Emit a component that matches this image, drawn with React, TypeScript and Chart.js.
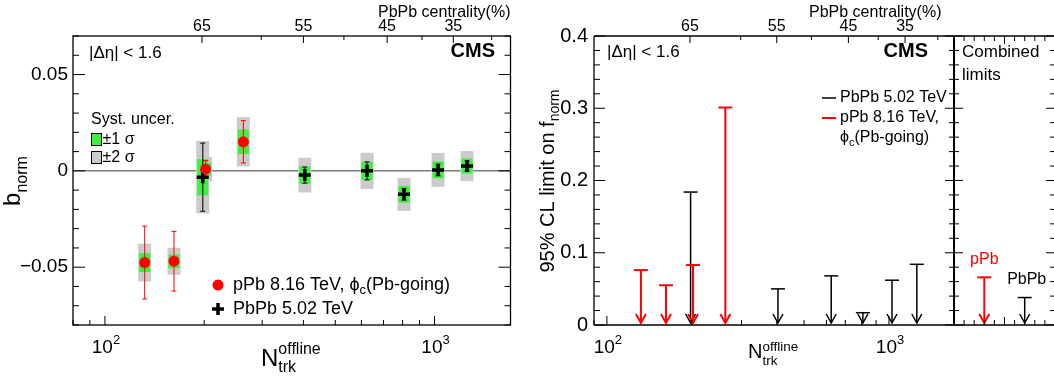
import React, { useEffect, useRef } from 'react';
import { Chart, registerables } from 'chart.js';
Chart.register(...registerables);

// ---------------- Data ----------------
// Left panel: b_norm vs N_trk^offline
const pPbNtrk = [132, 162, 202, 263];
const pPbB = [-0.0476, -0.0469, 0.0009, 0.0151];
const pPbStat = [0.0189, 0.0155, 0.0045, 0.011];
const pPbSyst = [0.0049, 0.0035, 0.0032, 0.0064];

const PbPbNtrk = [198, 404, 624, 808, 1025, 1255];
const PbPbB = [-0.0033, -0.0022, 0.0, -0.0122, 0.0005, 0.0025];
const PbPbStat = [0.0177, 0.0042, 0.0047, 0.003, 0.003, 0.0025];
const PbPbSyst = [0.0094, 0.0045, 0.0047, 0.0043, 0.0044, 0.0039];

// Right panel: 95% CL upper limits on f_norm
const pPbLimit = [0.076, 0.055, 0.083, 0.301];
const PbPbLimit = [0.184, 0.05, 0.068, 0.017, 0.062, 0.084];

// Combined limits
const combinedLabels = ['pPb', 'PbPb'];
const combinedPos = [3, 7];
const combinedLimit = [0.066, 0.038];

// Top axis: PbPb centrality
const centralityLabels = ['65', '55', '45', '35'];
const centralityNtrk = [197, 400, 718, 1140];
const centralityMinorNtrk = [298, 531, 916, 1490];

// Tick labels
const leftYTicks = [-0.05, 0, 0.05];
const leftYTickLabels = ['\u22120.05', '0', '0.05'];
const rightYTicks = [0, 0.1, 0.2, 0.3, 0.4];
const rightYTickLabels = ['0', '0.1', '0.2', '0.3', '0.4'];
const xMajorTicks = [100, 1000];
const xMajorExp = ['2', '3'];

// ---------------- Style ----------------
const FONT = '"Liberation Sans", Arial, Helvetica, sans-serif';
const GREEN = '#3ef03e';
const GRAY = '#cbcbcb';
const RED = '#ff0000';
const PHI = '\u03d5';

type Part = { t: string; size: number; dy?: number; bold?: boolean; stack?: boolean; color?: string };

function font(size: number, bold?: boolean) {
  return `${bold ? 'bold ' : ''}${size}px ${FONT}`;
}

function drawRich(ctx: CanvasRenderingContext2D, parts: Part[], x: number, y: number, align: 'left' | 'center' | 'right', color = '#000') {
  let cur = 0, prevStart = 0, prevW = 0;
  const placed: { p: Part; x: number }[] = [];
  for (const p of parts) {
    ctx.font = font(p.size, p.bold);
    const w = ctx.measureText(p.t).width;
    if (p.stack) {
      placed.push({ p, x: prevStart });
      prevW = Math.max(prevW, w);
      cur = prevStart + prevW;
    } else {
      placed.push({ p, x: cur });
      prevStart = cur; prevW = w; cur += w;
    }
  }
  const x0 = align === 'left' ? x : align === 'center' ? x - cur / 2 : x - cur;
  ctx.textAlign = 'left';
  for (const { p, x: px } of placed) {
    ctx.font = font(p.size, p.bold);
    ctx.fillStyle = p.color || color;
    ctx.fillText(p.t, x0 + px, y + (p.dy || 0));
  }
}

function line(ctx: CanvasRenderingContext2D, x1: number, y1: number, x2: number, y2: number) {
  ctx.beginPath(); ctx.moveTo(x1, y1); ctx.lineTo(x2, y2); ctx.stroke();
}

function logTicks(min: number, max: number) {
  const out: { v: number; major: boolean }[] = [];
  for (let e = Math.floor(Math.log10(min)); e <= Math.ceil(Math.log10(max)); e++) {
    const d = Math.pow(10, e);
    for (let m = 1; m <= 9; m++) {
      const v = m * d;
      if (v >= min && v <= max) out.push({ v, major: m === 1 });
    }
  }
  return out;
}

function drawBottomLogAxis(ctx: CanvasRenderingContext2D, chart: any) {
  const { chartArea: a, scales: { x } } = chart;
  ctx.strokeStyle = '#000'; ctx.lineWidth = 1;
  logTicks(x.min, x.max).forEach(t => {
    const px = x.getPixelForValue(t.v);
    line(ctx, px, a.bottom, px, a.bottom - (t.major ? 9 : 5));
  });
  ctx.textBaseline = 'alphabetic';
  xMajorTicks.forEach((v, i) => {
    drawRich(ctx, [{ t: '10', size: 19 }, { t: xMajorExp[i], size: 13, dy: -9 }], x.getPixelForValue(v) + 1, 353, 'center');
  });
}

function drawCentralityAxis(ctx: CanvasRenderingContext2D, chart: any) {
  const { chartArea: a, scales: { x } } = chart;
  ctx.strokeStyle = '#000'; ctx.lineWidth = 1;
  centralityNtrk.forEach(n => { const px = x.getPixelForValue(n); line(ctx, px, a.top, px, a.top + 7); });
  centralityMinorNtrk.forEach(n => {
    if (n < x.max) { const px = x.getPixelForValue(n); line(ctx, px, a.top, px, a.top + 4); }
  });
  ctx.textBaseline = 'middle';
  centralityLabels.forEach((lab, i) => {
    drawRich(ctx, [{ t: lab, size: 16 }], x.getPixelForValue(centralityNtrk[i]), 27, 'center');
  });
}

function drawArrow(ctx: CanvasRenderingContext2D, px: number, pyTop: number, pyTip: number, color: string, lw: number) {
  ctx.strokeStyle = color; ctx.lineWidth = lw;
  line(ctx, px, pyTop, px, pyTip);
  ctx.beginPath();
  ctx.moveTo(px - 5, pyTip - 9); ctx.lineTo(px, pyTip); ctx.lineTo(px + 5, pyTip - 9);
  ctx.stroke();
}

// ---------------- Left chart ----------------
const leftPlugin = {
  id: 'leftDecor',
  beforeDatasetsDraw(chart: any) {
    const { ctx, chartArea: a, scales: { x, y } } = chart;
    ctx.save();
    const y0 = y.getPixelForValue(0);
    ctx.strokeStyle = '#7a7a7a'; ctx.lineWidth = 1.5;
    line(ctx, a.left, y0, a.right, y0);
    const series = [
      { n: pPbNtrk, v: pPbB, s: pPbSyst, e: pPbStat, c: RED, lw: 1 },
      { n: PbPbNtrk, v: PbPbB, s: PbPbSyst, e: PbPbStat, c: '#333', lw: 1.4 },
    ];
    // +-2 sigma systematic boxes
    ctx.fillStyle = GRAY;
    series.forEach(sr => sr.n.forEach((n, i) => {
      const px = x.getPixelForValue(n);
      const t = y.getPixelForValue(sr.v[i] + 2 * sr.s[i]);
      const b = y.getPixelForValue(sr.v[i] - 2 * sr.s[i]);
      ctx.fillRect(px - 6.5, t, 13, b - t);
    }));
    // +-1 sigma systematic boxes
    ctx.fillStyle = GREEN;
    series.forEach(sr => sr.n.forEach((n, i) => {
      const px = x.getPixelForValue(n);
      const t = y.getPixelForValue(sr.v[i] + sr.s[i]);
      const b = y.getPixelForValue(sr.v[i] - sr.s[i]);
      ctx.fillRect(px - 5.5, t, 11, b - t);
    }));
    // statistical error bars
    series.forEach(sr => sr.n.forEach((n, i) => {
      const px = x.getPixelForValue(n);
      const t = y.getPixelForValue(sr.v[i] + sr.e[i]);
      const b = y.getPixelForValue(sr.v[i] - sr.e[i]);
      ctx.strokeStyle = sr.c; ctx.lineWidth = sr.lw;
      line(ctx, px, t, px, b);
      line(ctx, px - 2.5, t, px + 2.5, t);
      line(ctx, px - 2.5, b, px + 2.5, b);
    }));
    ctx.restore();
  },
  afterDraw(chart: any) {
    const { ctx, chartArea: a, scales: { y } } = chart;
    ctx.save();
    // frame
    ctx.strokeStyle = '#000'; ctx.lineWidth = 1.3;
    ctx.strokeRect(a.left, a.top, a.right - a.left, a.bottom - a.top);
    // y ticks both sides
    ctx.lineWidth = 1;
    for (let k = -8; k <= 7; k++) {
      const py = y.getPixelForValue(k / 100);
      const len = k % 5 === 0 ? 12 : 6;
      line(ctx, a.left, py, a.left + len, py);
      line(ctx, a.right, py, a.right - len, py);
    }
    ctx.textBaseline = 'middle';
    leftYTicks.forEach((v, i) => drawRich(ctx, [{ t: leftYTickLabels[i], size: 19 }], 68, y.getPixelForValue(v), 'right'));
    drawBottomLogAxis(ctx, chart);
    drawCentralityAxis(ctx, chart);
    ctx.textBaseline = 'middle';
    drawRich(ctx, [{ t: 'PbPb centrality(%)', size: 16 }], a.right, 12.5, 'right');
    drawRich(ctx, [{ t: '|\u0394\u03b7| < 1.6', size: 17 }], 89, 53, 'left');
    drawRich(ctx, [{ t: 'CMS', size: 20, bold: true }], 495, 51.5, 'right');
    // systematic legend
    drawRich(ctx, [{ t: 'Syst. uncer.', size: 16 }], 91, 119.5, 'left');
    ctx.fillStyle = GREEN; ctx.fillRect(91, 133, 11, 13);
    ctx.strokeStyle = '#000'; ctx.lineWidth = 1; ctx.strokeRect(91.5, 133.5, 10, 12);
    drawRich(ctx, [{ t: '\u00b11 \u03c3', size: 16 }], 102.5, 139.5, 'left');
    ctx.fillStyle = GRAY; ctx.fillRect(91, 151, 11, 13);
    ctx.strokeRect(91.5, 151.5, 10, 12);
    drawRich(ctx, [{ t: '\u00b12 \u03c3', size: 16 }], 102.5, 158, 'left');
    // marker legend
    ctx.fillStyle = RED; ctx.beginPath(); ctx.arc(218, 285, 5.5, 0, Math.PI * 2); ctx.fill();
    drawRich(ctx, [{ t: 'pPb 8.16 TeV, ' + PHI, size: 18 }, { t: 'c', size: 13, dy: 5 }, { t: '(Pb-going)', size: 18 }], 233, 285, 'left');
    ctx.strokeStyle = '#000'; ctx.lineWidth = 3.5;
    line(ctx, 212, 309, 224, 309); line(ctx, 218, 303, 218, 315);
    drawRich(ctx, [{ t: 'PbPb 5.02 TeV', size: 18 }], 233, 309, 'left');
    // axis titles
    ctx.textBaseline = 'alphabetic';
    drawRich(ctx, [{ t: 'N', size: 24 }, { t: 'offline', size: 16, dy: -12 }, { t: 'trk', size: 16, dy: 6, stack: true }], 261, 366, 'left');
    ctx.translate(20, 181);
    ctx.rotate(-Math.PI / 2);
    drawRich(ctx, [{ t: 'b', size: 24 }, { t: 'norm', size: 16, dy: 7 }], 0, 0, 'center');
    ctx.restore();
  },
};

function leftConfig(): any {
  return {
    type: 'scatter',
    data: {
      datasets: [
        { label: 'pPb 8.16 TeV, ' + PHI + 'c(Pb-going)', data: pPbNtrk.map((n, i) => ({ x: n, y: pPbB[i] })), pointStyle: 'circle', pointRadius: 5.5, backgroundColor: RED, borderColor: RED, borderWidth: 0 },
        { label: 'PbPb 5.02 TeV', data: PbPbNtrk.map((n, i) => ({ x: n, y: PbPbB[i] })), pointStyle: 'cross', pointRadius: 6, backgroundColor: '#000', borderColor: '#000', borderWidth: 3.5 },
      ],
    },
    options: {
      responsive: false, animation: false, events: [],
      layout: { padding: { left: 73, right: 8, top: 36, bottom: 54 } },
      plugins: { legend: { display: false }, tooltip: { enabled: false } },
      scales: {
        x: { type: 'logarithmic', min: 80, max: 1700, display: false },
        y: { type: 'linear', min: -0.08, max: 0.07, display: false },
      },
    },
    plugins: [leftPlugin],
  };
}

// ---------------- Right chart ----------------
const rightPlugin = {
  id: 'rightDecor',
  beforeDatasetsDraw(chart: any) {
    const { ctx, scales: { x, y } } = chart;
    ctx.save();
    const tip = y.getPixelForValue(0) - 2;
    PbPbNtrk.forEach((n, i) => drawArrow(ctx, x.getPixelForValue(n), y.getPixelForValue(PbPbLimit[i]), tip, '#000', 1.5));
    pPbNtrk.forEach((n, i) => drawArrow(ctx, x.getPixelForValue(n), y.getPixelForValue(pPbLimit[i]), tip, RED, 2));
    ctx.restore();
  },
  afterDraw(chart: any) {
    const { ctx, chartArea: a, scales: { y } } = chart;
    ctx.save();
    ctx.strokeStyle = '#000'; ctx.lineWidth = 1.3;
    line(ctx, a.left, a.top, a.right, a.top);
    line(ctx, a.left, a.bottom, a.right, a.bottom);
    line(ctx, a.left, a.top, a.left, a.bottom);
    ctx.lineWidth = 2;
    line(ctx, a.right, a.top, a.right, a.bottom);
    ctx.lineWidth = 1;
    for (let k = 0; k <= 20; k++) {
      const py = y.getPixelForValue(k * 0.02);
      const major = k % 5 === 0;
      line(ctx, a.left, py, a.left + (major ? 11 : 6), py);
      const s = major ? 9 : 5;
      line(ctx, a.right - s, py, a.right + s, py);
    }
    ctx.textBaseline = 'middle';
    rightYTicks.forEach((v, i) => drawRich(ctx, [{ t: rightYTickLabels[i], size: 20 }], 68, y.getPixelForValue(v), 'right'));
    drawBottomLogAxis(ctx, chart);
    drawCentralityAxis(ctx, chart);
    ctx.textBaseline = 'middle';
    drawRich(ctx, [{ t: 'PbPb centrality(%)', size: 16 }], 289, 12.5, 'left');
    drawRich(ctx, [{ t: '|\u0394\u03b7| < 1.6', size: 17 }], 87, 52, 'left');
    drawRich(ctx, [{ t: 'CMS', size: 20, bold: true }], 408, 51.5, 'right');
    // legend
    ctx.strokeStyle = '#000'; ctx.lineWidth = 1.5; line(ctx, 302, 98, 316, 98);
    drawRich(ctx, [{ t: 'PbPb 5.02 TeV', size: 16 }], 320, 98, 'left');
    ctx.strokeStyle = RED; ctx.lineWidth = 2; line(ctx, 302, 118, 316, 118);
    drawRich(ctx, [{ t: 'pPb 8.16 TeV,', size: 16 }], 320, 118, 'left');
    drawRich(ctx, [{ t: PHI, size: 16 }, { t: 'c', size: 11, dy: 5 }, { t: '(Pb-going)', size: 16 }], 320, 138, 'left');
    // titles
    ctx.textBaseline = 'alphabetic';
    drawRich(ctx, [{ t: 'N', size: 20 }, { t: 'offline', size: 13.5, dy: -7 }, { t: 'trk', size: 13.5, dy: 7, stack: true }], 228, 358, 'left');
    ctx.translate(34, 181);
    ctx.rotate(-Math.PI / 2);
    drawRich(ctx, [{ t: '95% CL limit on f', size: 20 }, { t: 'norm', size: 14, dy: 5 }], 0, 0, 'center');
    ctx.restore();
  },
};

function rightConfig(): any {
  return {
    type: 'scatter',
    data: {
      datasets: [
        { label: 'pPb 8.16 TeV, ' + PHI + 'c(Pb-going)', data: pPbNtrk.map((n, i) => ({ x: n, y: pPbLimit[i] })), pointStyle: 'line', pointRadius: 7, borderColor: RED, backgroundColor: RED, borderWidth: 2 },
        { label: 'PbPb 5.02 TeV', data: PbPbNtrk.map((n, i) => ({ x: n, y: PbPbLimit[i] })), pointStyle: 'line', pointRadius: 7, borderColor: '#000', backgroundColor: '#000', borderWidth: 1.5 },
      ],
    },
    options: {
      responsive: false, animation: false, events: [],
      layout: { padding: { left: 74, right: 16, top: 36, bottom: 54 } },
      plugins: { legend: { display: false }, tooltip: { enabled: false } },
      scales: {
        x: { type: 'logarithmic', min: 90, max: 1700, display: false },
        y: { type: 'linear', min: 0, max: 0.4, display: false },
      },
    },
    plugins: [rightPlugin],
  };
}

// ---------------- Combined chart ----------------
const combColors = [RED, '#000'];
const combPlugin = {
  id: 'combDecor',
  beforeDatasetsDraw(chart: any) {
    const { ctx, scales: { x, y } } = chart;
    ctx.save();
    const tip = y.getPixelForValue(0) - 2;
    combinedPos.forEach((p, i) => drawArrow(ctx, x.getPixelForValue(p), y.getPixelForValue(combinedLimit[i]), tip, combColors[i], i === 0 ? 2 : 1.5));
    ctx.restore();
  },
  afterDraw(chart: any) {
    const { ctx, chartArea: a, scales: { x, y } } = chart;
    ctx.save();
    ctx.strokeStyle = '#000'; ctx.lineWidth = 1.3;
    line(ctx, a.left, a.top, a.right, a.top);
    line(ctx, a.left, a.bottom, a.right, a.bottom);
    line(ctx, a.right, a.top, a.right, a.bottom);
    ctx.lineWidth = 1;
    for (let k = 1; k <= 9; k++) {
      const px = x.getPixelForValue(k);
      const len = k === 5 ? 8 : 5;
      line(ctx, px, a.top, px, a.top + len);
      line(ctx, px, a.bottom, px, a.bottom - len);
    }
    for (let k = 0; k <= 20; k++) {
      const py = y.getPixelForValue(k * 0.02);
      line(ctx, a.right, py, a.right - (k % 5 === 0 ? 9 : 5), py);
    }
    ctx.textBaseline = 'middle';
    drawRich(ctx, [{ t: 'Combined', size: 17 }], 22, 52, 'left');
    drawRich(ctx, [{ t: 'limits', size: 17 }], 22, 75, 'left');
    combinedPos.forEach((p, i) => {
      drawRich(ctx, [{ t: combinedLabels[i], size: 16 }], x.getPixelForValue(p) + (i === 1 ? 2 : 0), y.getPixelForValue(combinedLimit[i]) - 18, 'center', combColors[i]);
    });
    ctx.restore();
  },
};

function combConfig(): any {
  return {
    type: 'scatter',
    data: {
      datasets: [
        { label: 'Combined limits', data: combinedPos.map((p, i) => ({ x: p, y: combinedLimit[i] })), pointStyle: 'line', pointRadius: 7, borderColor: combColors, backgroundColor: combColors, borderWidth: [2, 1.5] },
      ],
    },
    options: {
      responsive: false, animation: false, events: [],
      layout: { padding: { left: 14, right: 15, top: 36, bottom: 54 } },
      plugins: { legend: { display: false }, tooltip: { enabled: false } },
      scales: {
        x: { type: 'linear', min: 0, max: 10, display: false },
        y: { type: 'linear', min: 0, max: 0.4, display: false },
      },
    },
    plugins: [combPlugin],
  };
}

export default function App() {
  const leftRef = useRef<HTMLCanvasElement>(null);
  const rightRef = useRef<HTMLCanvasElement>(null);
  const combRef = useRef<HTMLCanvasElement>(null);
  useEffect(() => {
    const charts = [
      new Chart(leftRef.current as HTMLCanvasElement, leftConfig()),
      new Chart(rightRef.current as HTMLCanvasElement, rightConfig()),
      new Chart(combRef.current as HTMLCanvasElement, combConfig()),
    ];
    return () => charts.forEach(c => c.destroy());
  }, []);
  return (
    <div style={{ position: 'absolute', left: 0, top: 0, width: 1054, height: 379, overflow: 'hidden', background: '#fff' }}>
      <canvas ref={leftRef} width={520} height={379} style={{ position: 'absolute', left: 0, top: 0, width: 520, height: 379 }} />
      <canvas ref={rightRef} width={450} height={379} style={{ position: 'absolute', left: 520, top: 0, width: 450, height: 379 }} />
      <canvas ref={combRef} width={130} height={379} style={{ position: 'absolute', left: 940, top: 0, width: 130, height: 379 }} />
    </div>
  );
}
